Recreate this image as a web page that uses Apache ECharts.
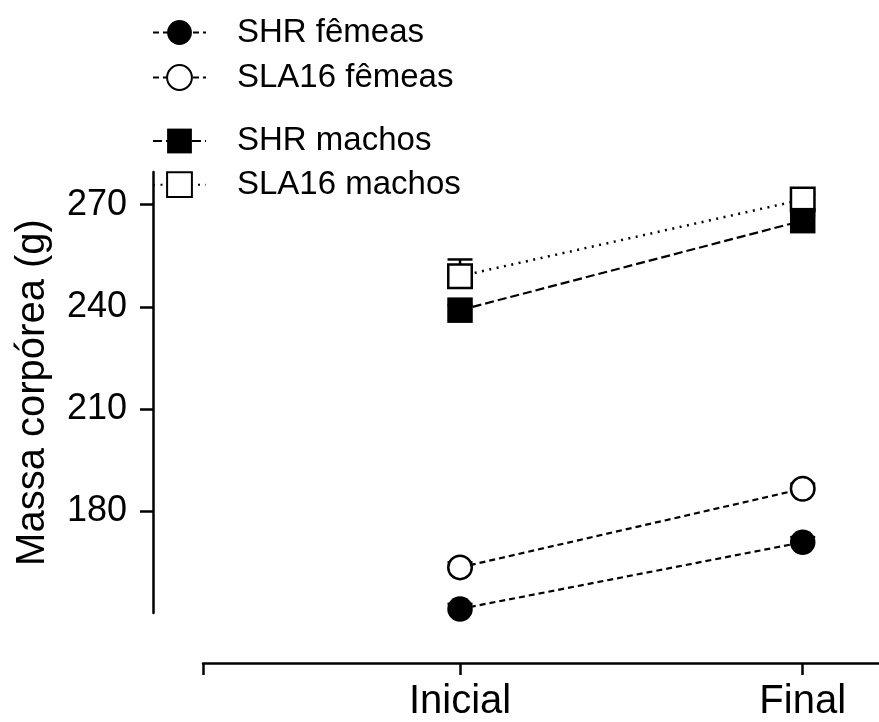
<!DOCTYPE html>
<html>
<head>
<meta charset="utf-8">
<script src="https://cdn.jsdelivr.net/npm/echarts@6/dist/echarts.min.js"></script>
<style>html,body{margin:0;padding:0;background:#fff;}#c{width:879px;height:722px;}</style>
</head>
<body>
<div id="c"></div>
<script>
// ---- data ----
var categories = ['Inicial', 'Final'];
var xPositions = [1, 2];
var yTicks = [180, 210, 240, 270];
var shrFemeas = [151.2, 170.8];
var sla16Femeas = [163.4, 186.5];
var shrMachos = [239.0, 265.3];
var sla16Machos = [249.0, 271.5];
// upper error (SEM) estimates; most are hidden inside the markers
var shrFemeasErr = [1.5, 1.5];
var sla16FemeasErr = [1.5, 1.5];
var shrMachosErr = [1.5, 1.5];
var sla16MachosErr = [4.9, 1.5];

var FONT = '"Liberation Sans", Arial, sans-serif';

function pts(vals) { return vals.map(function (v, i) { return [xPositions[i], v]; }); }
function errPts(vals, errs) { return vals.map(function (v, i) { return [xPositions[i], v, errs[i]]; }); }

var errData = [].concat(
  errPts(shrFemeas, shrFemeasErr),
  errPts(sla16Femeas, sla16FemeasErr),
  errPts(shrMachos, shrMachosErr),
  errPts(sla16Machos, sla16MachosErr)
);

var chart = echarts.init(document.getElementById('c'), null, { renderer: 'canvas' });

function lineSeries(name, data, symbol, filled, dash, lw, z) {
  return {
    name: name, type: 'line', data: pts(data), z: z,
    symbol: symbol, symbolSize: filled ? 25.5 : 23.5,
    lineStyle: { color: '#000', width: lw, type: dash },
    itemStyle: filled ? { color: '#000', borderColor: '#000', borderWidth: 0 }
                      : { color: '#fff', borderColor: '#000', borderWidth: 2.5 },
    emphasis: { disabled: true },
    animation: false
  };
}

var option = {
  backgroundColor: '#fff',
  animation: false,
  grid: { left: 203, right: 0, top: 172, bottom: 109, containLabel: false },
  legend: [
    {
      data: ['SHR fêmeas', 'SLA16 fêmeas'],
      orient: 'vertical', left: 152, top: 16, padding: 0,
      itemWidth: 53, itemHeight: 31, itemGap: 12, selectedMode: false,
      textStyle: { fontSize: 33, fontFamily: FONT, color: '#000', padding: [0, 0, 0, 26] }
    },
    {
      data: ['SHR machos', 'SLA16 machos'],
      orient: 'vertical', left: 152, top: 124.5, padding: 0,
      itemWidth: 53, itemHeight: 31, itemGap: 10.7, selectedMode: false,
      textStyle: { fontSize: 33, fontFamily: FONT, color: '#000', padding: [0, 0, 0, 26] }
    }
  ],
  xAxis: {
    type: 'value', min: 0.25, max: 2.2226, offset: 50,
    splitLine: { show: false },
    axisLine: { show: true, lineStyle: { color: '#000', width: 2.5 } },
    axisTick: { show: true, length: 12, lineStyle: { color: '#000', width: 2.5 }, customValues: [0.25].concat(xPositions) },
    axisLabel: {
      customValues: xPositions, margin: 19,
      fontSize: 40, fontFamily: FONT, color: '#000',
      formatter: function (v) { var i = xPositions.indexOf(v); return i >= 0 ? categories[i] : ''; }
    }
  },
  yAxis: {
    type: 'value', min: 150, max: 279.6, offset: 50,
    name: 'Massa corpórea (g)', nameLocation: 'middle', nameGap: 100,
    nameTextStyle: { fontSize: 40, fontFamily: FONT, color: '#000' },
    splitLine: { show: false },
    axisLine: { show: true, lineStyle: { color: '#000', width: 2.5 } },
    axisTick: { show: true, length: 13, lineStyle: { color: '#000', width: 2.5 }, customValues: yTicks },
    axisLabel: { customValues: yTicks, margin: 26, fontSize: 36, fontFamily: FONT, color: '#000' }
  },
  series: [
    {
      name: 'err', type: 'custom', z: 1, data: errData, encode: { x: 0, y: 1 },
      renderItem: function (params, api) {
        var x = api.value(0), y = api.value(1), e = api.value(2);
        var c = api.coord([x, y]);
        var t = api.coord([x, y + e]);
        return {
          type: 'group',
          children: [
            { type: 'line', shape: { x1: c[0], y1: c[1], x2: t[0], y2: t[1] }, style: { stroke: '#000', lineWidth: 2.5 } },
            { type: 'line', shape: { x1: t[0] - 12.5, y1: t[1], x2: t[0] + 12.5, y2: t[1] }, style: { stroke: '#000', lineWidth: 2.5 } }
          ]
        };
      },
      animation: false
    },
    lineSeries('SHR fêmeas', shrFemeas, 'circle', true, [6, 4], 2.2, 3),
    lineSeries('SLA16 fêmeas', sla16Femeas, 'circle', false, [6, 4], 2.2, 3),
    lineSeries('SLA16 machos', sla16Machos, 'rect', false, [2, 5.5], 2.5, 3),
    lineSeries('SHR machos', shrMachos, 'rect', true, [9, 4], 2.2, 4)
  ]
};
chart.setOption(option);
</script>
</body>
</html>
